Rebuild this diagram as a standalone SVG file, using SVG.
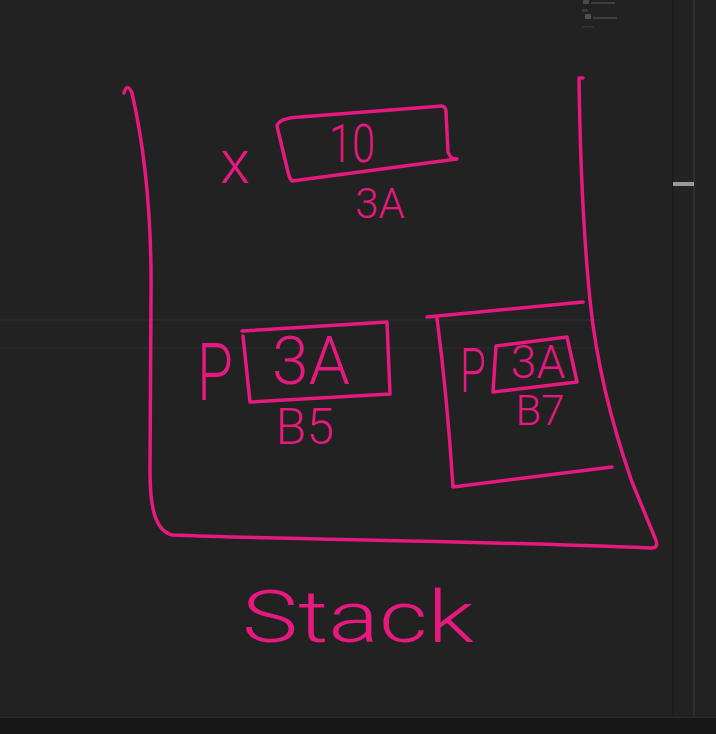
<svg xmlns="http://www.w3.org/2000/svg" width="716" height="734" viewBox="0 0 716 734">
<style>
.ink{fill:none;stroke:#e6197e;stroke-width:3.5;stroke-linecap:round;stroke-linejoin:round}
.t{fill:#e6197e;font-family:Roboto,"Liberation Sans",sans-serif;font-weight:300;text-anchor:middle}
</style>
<rect width="716" height="734" fill="#222222"/>
<g id="chrome">
<line x1="0" y1="320" x2="600" y2="320" stroke="#2b2b2b" stroke-width="1.5"/>
<line x1="0" y1="348" x2="600" y2="348" stroke="#2b2b2b" stroke-width="1.5"/>
<line x1="673" y1="0" x2="673" y2="718" stroke="#1c1c1c" stroke-width="2"/>
<line x1="694" y1="0" x2="694" y2="718" stroke="#333333" stroke-width="1.5"/>
<rect x="673" y="182" width="21" height="4" fill="#9a9a9a"/>
<rect x="0" y="718" width="716" height="16" fill="#181818"/>
<line x1="0" y1="717.5" x2="716" y2="717.5" stroke="#2a2a2a" stroke-width="1"/>
<rect x="583" y="0" width="6" height="4" fill="#4a4a4a"/>
<rect x="591" y="2" width="24" height="2" fill="#3e3e3e"/>
<rect x="582" y="9" width="6" height="3" fill="#3a3a3a"/>
<rect x="585" y="14" width="6" height="5" fill="#505050"/>
<rect x="593" y="17" width="24" height="2" fill="#3e3e3e"/>
<rect x="582" y="26" width="12" height="1.5" fill="#333333"/>
</g>
<g id="stack">
<path class="ink" d="M124,93 Q127,82 132,93 C145,150 152,220 151,300 L150,470 C150,505 154,530 172,535 C300,540 450,540 650,548 Q660,549 655,538 L632,482 C612,425 596,360 590,300 C583,230 580,150 579,78 L583,78"/>
<text class="t" x="242" y="642" font-size="72" textLength="232" lengthAdjust="spacingAndGlyphs" style="text-anchor:start">Stack</text>
</g>
<g id="x-node">
<text class="t" x="235" y="183" font-size="62">x</text>
<path class="ink" d="M277,126 Q279,118 300,117 L442,106 Q446,107 446,112 L448,152 Q451,160 457,159 L292,181 Q289,178 288,172 L277,126"/>
<text class="t" x="352" y="162" font-size="54" textLength="46" lengthAdjust="spacingAndGlyphs">10</text>
<text class="t" x="380" y="218" font-size="42">3A</text>
</g>
<g id="p-node-b5">
<text class="t" x="215" y="400" font-size="80" textLength="36" lengthAdjust="spacingAndGlyphs">P</text>
<path class="ink" d="M242,331 L387,322 L390,394 L250,402 L243,336"/>
<text class="t" x="311" y="384" font-size="66">3A</text>
<text class="t" x="305" y="444" font-size="50">B5</text>
</g>
<g id="frame-b7">
<path class="ink" d="M427,317 L583,302"/>
<path class="ink" d="M437,318 C445,380 450,440 453,487 L612,467"/>
<text class="t" x="473" y="392" font-size="62" textLength="26" lengthAdjust="spacingAndGlyphs">P</text>
<path class="ink" d="M496,346 L567,337 L577,382 L493,392 L496,346"/>
<text class="t" x="538" y="378" font-size="46">3A</text>
<text class="t" x="540" y="425" font-size="42">B7</text>
</g>
</svg>
